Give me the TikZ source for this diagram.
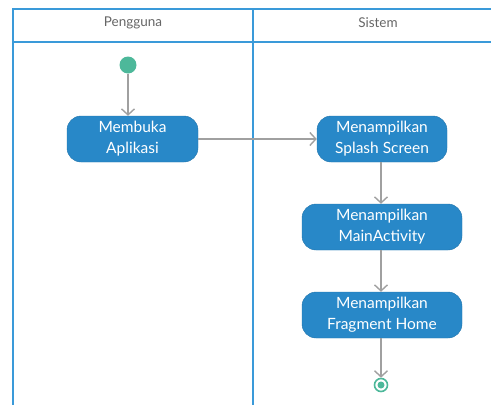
\documentclass[tikz,border=0pt]{standalone}
\usepackage{fontspec}
\setmainfont{Lato}
\usetikzlibrary{arrows.meta}
\definecolor{lane}{HTML}{3A9AD9}
\definecolor{act}{HTML}{2888C8}
\definecolor{flow}{HTML}{A0A0A0}
\definecolor{dot}{HTML}{4DB89A}
\definecolor{hdr}{HTML}{666666}
\tikzset{
  actbox/.style={draw=act!85!black, fill=act, rounded corners=14pt, text=white,
    font=\fontsize{15.5}{21}\selectfont, align=center, inner sep=0pt},
  flowline/.style={draw=flow, line width=1.6pt, -{Straight Barb[length=6pt,width=13pt,line width=1.4pt]}},
  laneline/.style={draw=lane, line width=2pt},
  hdrtext/.style={text=hdr, font=\fontsize{13.5}{16}\selectfont}
}
\begin{document}
\begin{tikzpicture}[x=1pt,y=-1pt]
  \useasboundingbox (0,0) rectangle (491,405);
  % swimlane frame
  \draw[laneline] (491,8.5) -- (12.5,8.5) -- (12.5,406);
  \draw[laneline] (12.5,42) -- (491,42);
  \draw[laneline] (253,8.5) -- (253,406);
  \node[hdrtext] (h1) at (133,22.5) {Pengguna};
  \node[hdrtext] (h2) at (378,22.5) {Sistem};
  % start and end
  \node[circle, fill=dot, minimum size=17pt, inner sep=0pt] (start) at (128,65) {};
  \node[circle, draw=dot, line width=1.6pt, fill=white, minimum size=13pt, inner sep=0pt] (endo) at (381,385) {};
  \node[circle, fill=dot, minimum size=7pt, inner sep=0pt] (endi) at (381,385) {};
  % activities
  \node[actbox, minimum width=131pt, minimum height=46pt] (buka) at (132.5,139) {Membuka\\Aplikasi};
  \node[actbox, minimum width=130pt, minimum height=46pt] (splash) at (382,139) {Menampilkan\\Splash Screen};
  \node[actbox, minimum width=160pt, minimum height=46pt] (main) at (382,227) {Menampilkan\\MainActivity};
  \node[actbox, minimum width=160pt, minimum height=46pt] (frag) at (382,315) {Menampilkan\\Fragment Home};
  % control flow
  \draw[flowline] (start) -- (start |- buka.north);
  \draw[flowline] (buka) -- (splash);
  \draw[flowline] (splash.south -| 381,0) -- (main.north -| 381,0);
  \draw[flowline] (main.south -| 381,0) -- (frag.north -| 381,0);
  \draw[flowline] (frag.south -| 381,0) -- (endo);
\end{tikzpicture}
\end{document}
